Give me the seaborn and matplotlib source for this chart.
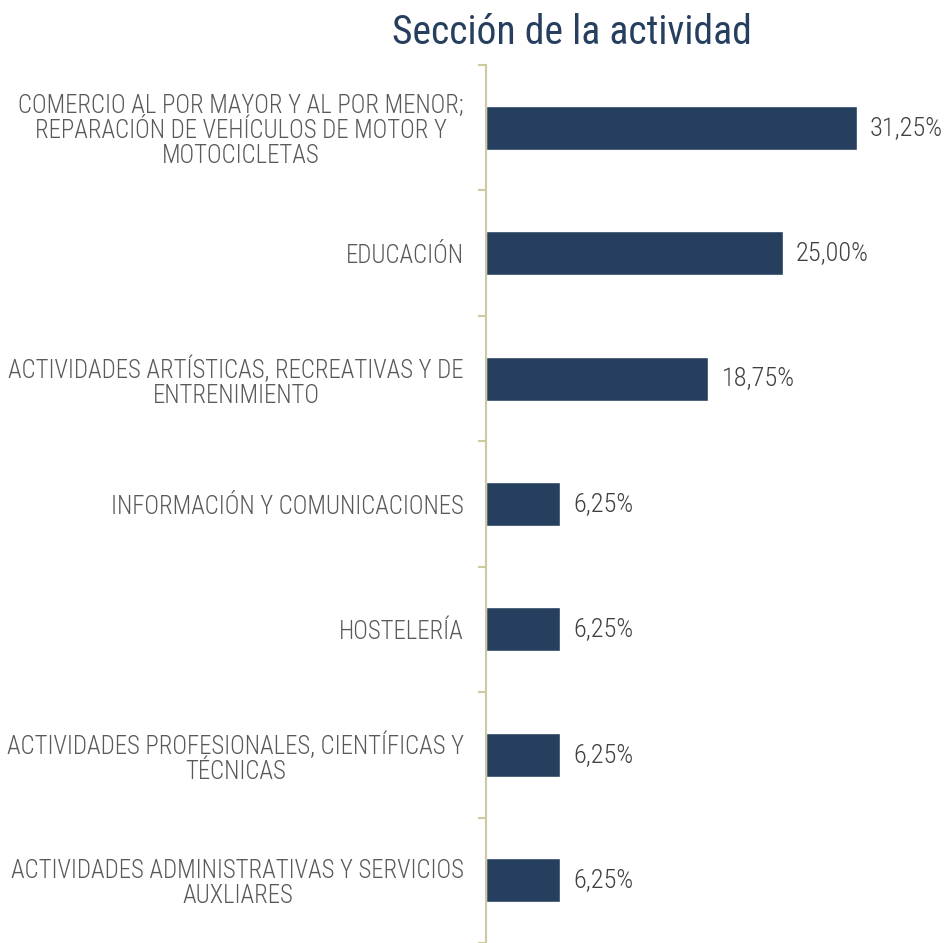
import pandas as pd
import matplotlib.pyplot as plt
import seaborn as sns

# Data
categories = [
    "COMERCIO AL POR MAYOR Y AL POR MENOR;\nREPARACIÓN DE VEHÍCULOS DE MOTOR Y\nMOTOCICLETAS",
    "EDUCACIÓN",
    "ACTIVIDADES ARTÍSTICAS, RECREATIVAS Y DE\nENTRENIMIENTO",
    "INFORMACIÓN Y COMUNICACIONES",
    "HOSTELERÍA",
    "ACTIVIDADES PROFESIONALES, CIENTÍFICAS Y\nTÉCNICAS",
    "ACTIVIDADES ADMINISTRATIVAS Y SERVICIOS\nAUXLIARES",
]
values = [31.25, 25.00, 18.75, 6.25, 6.25, 6.25, 6.25]
value_labels = ["31,25%", "25,00%", "18,75%", "6,25%", "6,25%", "6,25%", "6,25%"]

df = pd.DataFrame({"seccion": categories, "pct": values})

sns.set_style("white")
plt.rcParams["font.family"] = ["Roboto Condensed", "DejaVu Sans"]

navy = "#263F5F"
axis_col = "#CFC9A2"

fig = plt.figure(figsize=(9.44, 9.43), dpi=100)
ax = fig.add_axes([486 / 944, 0.0, 1 - 486 / 944, (943 - 65) / 943])

sns.barplot(data=df, y="seccion", x="pct", orient="h", color=navy,
            width=0.35, saturation=1, ax=ax)

ax.set_xlim(0, 38.6)
ax.set_ylim(-0.5 + (943 - 65) / 126, -0.5)

# value labels
for i, (v, lab) in enumerate(zip(values, value_labels)):
    ax.text(v + 1.1, i, lab, va="center", ha="left", fontsize=19, color="#404040",
            fontweight="light")

# axes styling
for s in ["top", "right", "bottom"]:
    ax.spines[s].set_visible(False)
ax.spines["left"].set_color(axis_col)
ax.spines["left"].set_linewidth(1.5)
ax.set_xticks([])
ax.set_xlabel("")
ax.set_ylabel("")
ax.tick_params(axis="y", which="major", left=False, length=0, pad=16,
               labelsize=17.8, labelcolor="#595959")
ax.set_yticks([i - 0.5 for i in range(len(categories) + 1)], minor=True)
ax.tick_params(axis="y", which="minor", left=True, length=6, width=1.5,
               color=axis_col, direction="out")
for t in ax.get_yticklabels():
    t.set_multialignment("center")
    t.set_fontweight("light")
    t.set_linespacing(1.07)

fig.text(572 / 944, 1 - 32 / 943, "Sección de la actividad", ha="center", va="center",
         fontsize=28.5, color=navy)

plt.savefig("out.png", dpi=100)
